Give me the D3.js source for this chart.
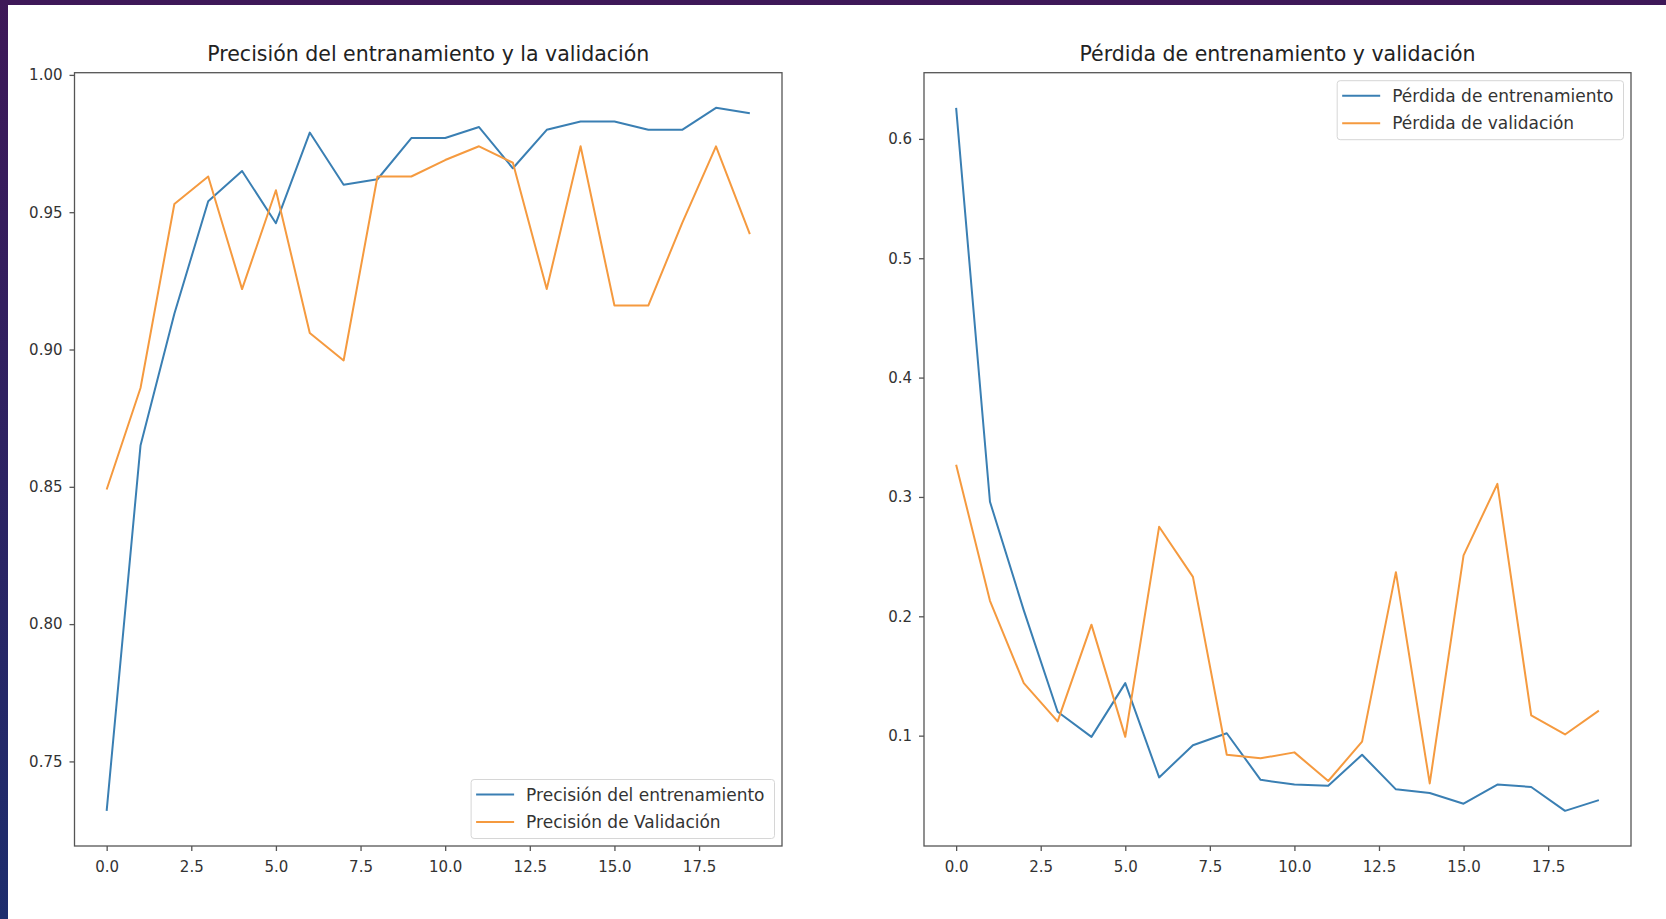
<!DOCTYPE html>
<html>
<head>
<meta charset="utf-8">
<script src="https://cdn.jsdelivr.net/npm/d3@7"></script>
<style>
  body { margin: 0; background: #2a1f5e; overflow: hidden; }
  text { font-family: "DejaVu Sans", sans-serif; }
</style>
</head>
<body>
<div class="chart"></div>
<script>
// Data
var epochs = [0, 1, 2, 3, 4, 5, 6, 7, 8, 9, 10, 11, 12, 13, 14, 15, 16, 17, 18, 19];

var trainAcc = [0.732, 0.865, 0.913, 0.954, 0.965, 0.946, 0.979, 0.960, 0.962, 0.977,
                0.977, 0.981, 0.966, 0.980, 0.983, 0.983, 0.980, 0.980, 0.988, 0.986];
var valAcc = [0.849, 0.886, 0.953, 0.963, 0.922, 0.958, 0.906, 0.896, 0.963, 0.963,
              0.969, 0.974, 0.968, 0.922, 0.974, 0.916, 0.916, 0.946, 0.974, 0.942];

var trainLoss = [0.626, 0.296, 0.205, 0.120, 0.099, 0.144, 0.065, 0.092, 0.102, 0.063,
                 0.059, 0.058, 0.084, 0.055, 0.052, 0.043, 0.059, 0.057, 0.037, 0.046];
var valLoss = [0.327, 0.213, 0.144, 0.112, 0.193, 0.099, 0.275, 0.233, 0.084, 0.081,
               0.086, 0.062, 0.095, 0.237, 0.060, 0.251, 0.311, 0.117, 0.101, 0.121];

// Tick labels
var xTicks = [0, 2.5, 5, 7.5, 10, 12.5, 15, 17.5];
var accTicks = [0.75, 0.80, 0.85, 0.90, 0.95, 1.00];
var lossTicks = [0.1, 0.2, 0.3, 0.4, 0.5, 0.6];

var accTitle = "Precisión del entranamiento y la validación";
var lossTitle = "Pérdida de entrenamiento y validación";
var accLegend = ["Precisión del entrenamiento", "Precisión de Validación"];
var lossLegend = ["Pérdida de entrenamiento", "Pérdida de validación"];

var blue = "#3a7fb3";
var orange = "#f59a3f";

// SVG area
var svgWidth = 1666;
var svgHeight = 919;

var svg = d3.select(".chart")
  .append("svg")
  .attr("width", svgWidth)
  .attr("height", svgHeight);

// Slide background (purple edge) and white figure
var grad = svg.append("defs").append("linearGradient")
  .attr("id", "bg")
  .attr("x1", 0).attr("y1", 0).attr("x2", 0).attr("y2", 1);
grad.append("stop").attr("offset", "0%").attr("stop-color", "#3e1858");
grad.append("stop").attr("offset", "100%").attr("stop-color", "#1d2d6d");

svg.append("rect")
  .attr("width", svgWidth)
  .attr("height", svgHeight)
  .attr("fill", "url(#bg)");

svg.append("rect")
  .attr("x", 8)
  .attr("y", 5)
  .attr("width", svgWidth - 8)
  .attr("height", svgHeight - 5)
  .attr("fill", "#ffffff");

function drawPanel(p) {
  var top = 72.7, bottom = 846;
  var g = svg.append("g");

  // Scales with matplotlib-like 5% margins
  var xPad = (d3.max(epochs) - d3.min(epochs)) * 0.05;
  var xScale = d3.scaleLinear()
    .domain([d3.min(epochs) - xPad, d3.max(epochs) + xPad])
    .range([p.left, p.right]);

  var all = p.train.concat(p.val);
  var yPad = (d3.max(all) - d3.min(all)) * 0.05;
  var yScale = d3.scaleLinear()
    .domain([d3.min(all) - yPad, d3.max(all) + yPad])
    .range([bottom, top]);

  // Axes
  var bottomAxis = d3.axisBottom(xScale)
    .tickValues(xTicks)
    .tickFormat(d3.format(".1f"))
    .tickSize(5)
    .tickPadding(10);
  var leftAxis = d3.axisLeft(yScale)
    .tickValues(p.yTicks)
    .tickFormat(d3.format(p.yFormat))
    .tickSize(5)
    .tickPadding(7);

  var xg = g.append("g")
    .attr("transform", `translate(0, ${bottom})`)
    .call(bottomAxis);
  var yg = g.append("g")
    .attr("transform", `translate(${p.left}, 0)`)
    .call(leftAxis);

  [xg, yg].forEach(function(a) {
    a.select(".domain").remove();
    a.selectAll(".tick line").attr("stroke", "#555").attr("stroke-width", 1.3);
    a.selectAll(".tick text")
      .attr("fill", "#333")
      .style("font-size", "15px")
      .style("font-family", "DejaVu Sans, sans-serif");
  });

  // Lines
  var line = d3.line()
    .x((d, i) => xScale(epochs[i]))
    .y(d => yScale(d));

  g.append("path")
    .datum(p.train)
    .attr("fill", "none")
    .attr("stroke", blue)
    .attr("stroke-width", 2)
    .attr("stroke-linejoin", "round")
    .attr("d", line);

  g.append("path")
    .datum(p.val)
    .attr("fill", "none")
    .attr("stroke", orange)
    .attr("stroke-width", 2)
    .attr("stroke-linejoin", "round")
    .attr("d", line);

  // Frame (all four spines)
  g.append("rect")
    .attr("x", p.left)
    .attr("y", top)
    .attr("width", p.right - p.left)
    .attr("height", bottom - top)
    .attr("fill", "none")
    .attr("stroke", "#555")
    .attr("stroke-width", 1.3);

  // Title
  g.append("text")
    .attr("x", (p.left + p.right) / 2)
    .attr("y", 61)
    .attr("text-anchor", "middle")
    .attr("fill", "#222")
    .style("font-size", "20.5px")
    .text(p.title);

  // Legend
  var lg = g.append("g");
  var box = lg.append("rect")
    .attr("fill", "#fff")
    .attr("fill-opacity", 0.8)
    .attr("stroke", "#d6d6d6")
    .attr("stroke-width", 1)
    .attr("rx", 3);

  var colors = [blue, orange];
  var maxW = 0;
  p.legend.forEach(function(name, i) {
    var yRow = 15 + i * 27.5;
    lg.append("line")
      .attr("x1", 5).attr("x2", 43)
      .attr("y1", yRow).attr("y2", yRow)
      .attr("stroke", colors[i])
      .attr("stroke-width", 2);
    var t = lg.append("text")
      .attr("x", 55)
      .attr("y", yRow)
      .attr("dy", "0.36em")
      .attr("fill", "#333")
      .style("font-size", "17px")
      .text(name);
    maxW = Math.max(maxW, t.node().getComputedTextLength());
  });
  var boxW = 55 + maxW + 10;
  var boxH = 59;
  box.attr("width", boxW).attr("height", boxH);

  var lx = p.right - 7.5 - boxW;
  var ly = p.legendPos === "lower" ? bottom - 7.5 - boxH : top + 8;
  lg.attr("transform", `translate(${lx}, ${ly})`);
}

drawPanel({
  left: 74.5, right: 782,
  train: trainAcc, val: valAcc,
  yTicks: accTicks, yFormat: ".2f",
  title: accTitle, legend: accLegend, legendPos: "lower"
});

drawPanel({
  left: 924, right: 1631,
  train: trainLoss, val: valLoss,
  yTicks: lossTicks, yFormat: ".1f",
  title: lossTitle, legend: lossLegend, legendPos: "upper"
});
</script>
</body>
</html>
